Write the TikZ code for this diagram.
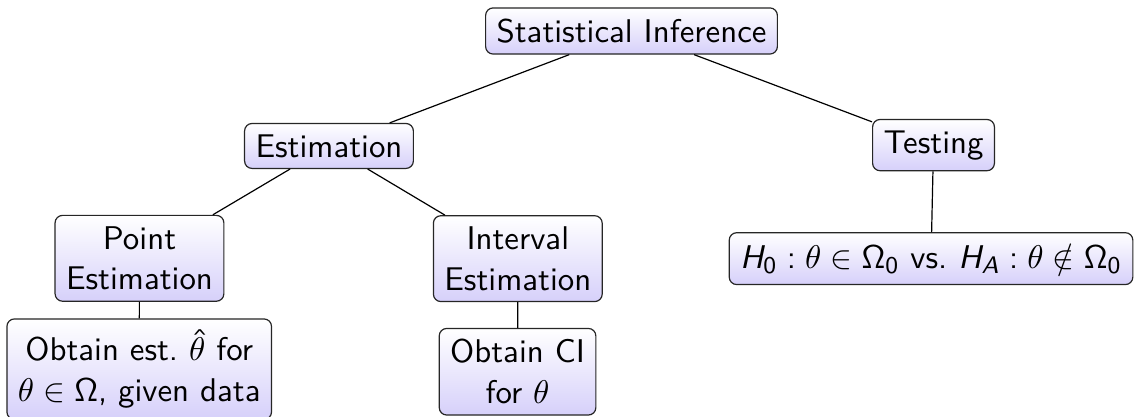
\documentclass[tikz,border=0pt,11pt]{standalone}
\usepackage{amsmath, amssymb}
\usepackage{xcolor}
\usepackage{tikz}
\usetikzlibrary{shadings}
\renewcommand{\familydefault}{\sfdefault}
\DeclareSymbolFont{operators}{OT1}{cmss}{m}{n}
\DeclareSymbolFont{sfitalic}{OT1}{cmss}{m}{sl}
\DeclareMathSymbol{H}{\mathalpha}{sfitalic}{`H}
\DeclareMathSymbol{A}{\mathalpha}{sfitalic}{`A}
\definecolor{boxbottom}{RGB}{214,208,250}
\tikzset{
  infnode/.style={
    draw=black!85,
    rounded corners=2.5pt,
    top color=white,
    bottom color=boxbottom,
    align=center,
    inner sep=0.3333em}
  }
\begin{document}
\begin{tikzpicture}
		\useasboundingbox (0,0) rectangle (13.32,-4.885);
		\node[infnode] (si) at (7.398,-0.363) {Statistical Inference};
		\node[infnode] (est) at (3.854,-1.71) {Estimation};
		\node[infnode] (test) at (10.936,-1.70) {Testing};
		\node[infnode] (pt) at (1.634,-3.026) {Point\\Estimation};
		\node[infnode] (iv) at (6.066,-3.030) {Interval\\Estimation};
		\node[infnode] (hyp) at (10.907,-3.030) {$H_0 : \theta \in \Omega_0$ vs.\ $H_A : \theta \notin \Omega_0$};
		\node[infnode] (ptest) at (1.631,-4.325) {Obtain est.\ $\hat{\theta}$ for\\$\theta \in \Omega$, given data};
		\node[infnode] (ci) at (6.063,-4.355) {Obtain CI\\for $\theta$};
		\draw (si) -- (est);
		\draw (si) -- (test);
		\draw (est) -- (pt);
		\draw (est) -- (iv);
		\draw (test) -- (hyp);
		\draw (pt) -- (ptest);
		\draw (iv) -- (ci);
	\end{tikzpicture}
\end{document}
